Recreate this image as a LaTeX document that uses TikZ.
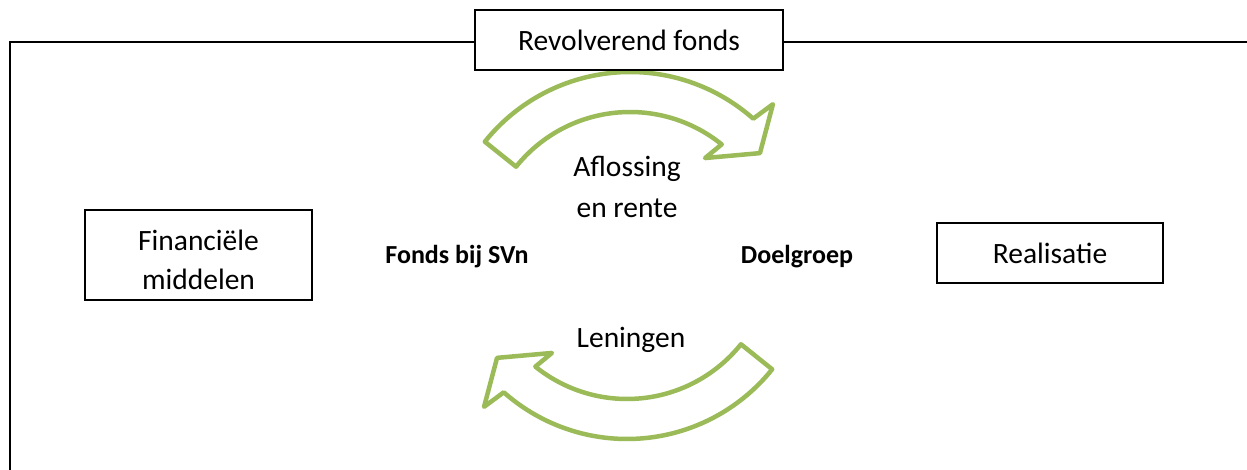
\documentclass[tikz,border=0pt]{standalone}
\usepackage{fontspec}
\setmainfont{Carlito}
\definecolor{ogreen}{RGB}{155,187,89}
\begin{document}
\begin{tikzpicture}[x=1pt,y=1pt,
  box/.style={draw=black, line width=1.5pt, fill=white, inner sep=0pt, align=center, font=\fontsize{29.5}{39}\selectfont},
  lbl/.style={inner sep=0pt, align=center, font=\fontsize{29.5}{41}\selectfont},
  boldlbl/.style={inner sep=0pt, font=\fontsize{26}{30}\selectfont\bfseries},
  bigarrow/.style={draw=ogreen, line width=4.5pt, line join=round, fill=white}]
\useasboundingbox (0,0) rectangle (1247,470);
% frame
\coordinate (fl) at (10,0);
\coordinate (fc) at (10,428);
\coordinate (fr) at (1247,428);
\draw[line width=2.5pt] (fl) -- (fc) -- (fr);
% upper curved arrow
\begin{scope}[shift={(630,212)}]
\draw[bigarrow] (141.3:186) arc[start angle=141.3, end angle=48.5, radius=186]
  -- (47.1:210) -- (38.9:167) -- (53.1:125) -- (51.1:146)
  arc[start angle=51.1, end angle=141.3, radius=146] -- cycle;
\end{scope}
% lower curved arrow
\begin{scope}[shift={(627,217)}, rotate=180]
\draw[bigarrow] (141.3:186) arc[start angle=141.3, end angle=48.5, radius=186]
  -- (47.1:210) -- (38.9:167) -- (53.1:125) -- (51.1:146)
  arc[start angle=51.1, end angle=141.3, radius=146] -- cycle;
\end{scope}
% boxes
\node[box, minimum width=308pt, minimum height=60pt] (title) at (629,430) {Revolverend fonds};
\node[box, minimum width=227pt, minimum height=90pt] (fin) at (198.5,215) {\rule{0pt}{31pt}Financiële\\middelen};
\node[box, minimum width=226pt, minimum height=60pt] (real) at (1050,217) {Realisatie};
% labels
\node[lbl, anchor=base] (afl) at (627,252) {Aflossing\\en rente};
\node[lbl, anchor=base] (len) at (631,122) {Leningen};
\node[boldlbl, anchor=base] (svn) at (457,206) {Fonds bij SVn};
\node[boldlbl, anchor=base] (doel) at (797,206) {Doelgroep};
\end{tikzpicture}
\end{document}
